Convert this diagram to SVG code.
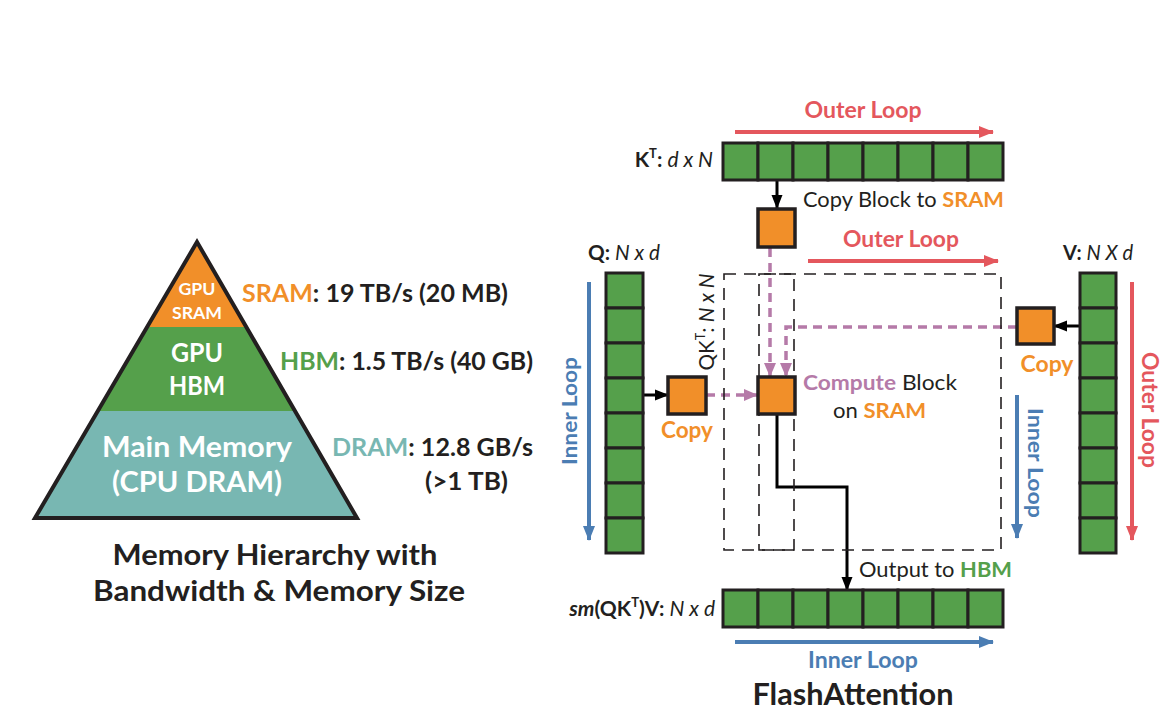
<svg xmlns="http://www.w3.org/2000/svg" width="1168" height="722" viewBox="0 0 1168 722">
<style>
text{font-family:Lato,"Open Sans","Liberation Sans",sans-serif;fill:#231f20}
.b{font-weight:700}
.w{fill:#fff;font-weight:700}
.cell{fill:#55a04b;stroke:#231f20;stroke-width:3}
.sq{fill:#f18f29;stroke:#231f20;stroke-width:3.5}
.dash{fill:none;stroke:#231f20;stroke-width:1.6;stroke-dasharray:12 8}
.red{stroke:#e4575d;stroke-width:4;fill:none}
.blue{stroke:#4b7db3;stroke-width:4;fill:none}
.pur{stroke:#b57aa8;stroke-width:3.5;fill:none;stroke-dasharray:9 6}
.blk{stroke:#000;stroke-width:3;fill:none}
.or{fill:#f18f29}
.gr{fill:#55a04b}
.tl{fill:#78b7b2}
.rt{fill:#e4575d}
.bt{fill:#4b7db3}
.pt{fill:#b57aa8}
</style>
<defs>
<marker id="ar" markerUnits="userSpaceOnUse" markerWidth="16" markerHeight="14" refX="14" refY="7" orient="auto"><path d="M0,1 L15,7 L0,13 Z" fill="#e4575d"/></marker>
<marker id="ab" markerUnits="userSpaceOnUse" markerWidth="16" markerHeight="14" refX="14" refY="7" orient="auto"><path d="M0,1 L15,7 L0,13 Z" fill="#4b7db3"/></marker>
<marker id="ap" markerUnits="userSpaceOnUse" markerWidth="14" markerHeight="14" refX="13" refY="7" orient="auto"><path d="M0,1 L14,7 L0,13 Z" fill="#b57aa8"/></marker>
<marker id="ak" markerUnits="userSpaceOnUse" markerWidth="14" markerHeight="14" refX="13" refY="7" orient="auto"><path d="M0,1.5 L14,7 L0,12.5 Z" fill="#000"/></marker>
</defs>

<g id="pyramid">
<polygon points="197,242 247,327 147,327" fill="#f18f29"/>
<polygon points="147,327 247,327 296,411 98,411" fill="#55a04b"/>
<polygon points="98,411 296,411 357,518 35,518" fill="#78b7b2"/>
<polygon points="197,242 357,518 35,518" fill="none" stroke="#231f20" stroke-width="4"/>
<text class="w" x="197" y="295" font-size="17" text-anchor="middle" textLength="37" lengthAdjust="spacingAndGlyphs">GPU</text>
<text class="w" x="197" y="319" font-size="17" text-anchor="middle" textLength="50" lengthAdjust="spacingAndGlyphs">SRAM</text>
<text class="w" x="197" y="362" font-size="26" text-anchor="middle" textLength="52" lengthAdjust="spacingAndGlyphs">GPU</text>
<text class="w" x="197" y="395" font-size="26" text-anchor="middle" textLength="56" lengthAdjust="spacingAndGlyphs">HBM</text>
<text class="w" x="197" y="457" font-size="29" text-anchor="middle" textLength="190" lengthAdjust="spacingAndGlyphs">Main Memory</text>
<text class="w" x="197" y="492" font-size="29" text-anchor="middle" textLength="170" lengthAdjust="spacingAndGlyphs">(CPU DRAM)</text>
</g>

<g id="mem-labels">
<text class="b" x="242" y="302" font-size="24" textLength="266" lengthAdjust="spacingAndGlyphs"><tspan class="or">SRAM</tspan>: 19 TB/s (20 MB)</text>
<text class="b" x="280" y="370" font-size="24" textLength="253" lengthAdjust="spacingAndGlyphs"><tspan class="gr">HBM</tspan>: 1.5 TB/s (40 GB)</text>
<text class="b" x="332" y="456" font-size="24" textLength="201" lengthAdjust="spacingAndGlyphs"><tspan class="tl">DRAM</tspan>: 12.8 GB/s</text>
<text class="b" x="425" y="490" font-size="24" textLength="83" lengthAdjust="spacingAndGlyphs">(&gt;1 TB)</text>
</g>

<g id="title-left">
<text class="b" x="275" y="565" font-size="28" text-anchor="middle" textLength="325" lengthAdjust="spacingAndGlyphs">Memory Hierarchy with</text>
<text class="b" x="279" y="601" font-size="28" text-anchor="middle" textLength="372" lengthAdjust="spacingAndGlyphs">Bandwidth &amp; Memory Size</text>
</g>

<g id="connectors">
<line class="red" x1="735" y1="132" x2="993" y2="132" marker-end="url(#ar)"/>
<line class="red" x1="808" y1="261" x2="998" y2="261" marker-end="url(#ar)"/>
<line class="red" x1="1132" y1="282" x2="1132" y2="540" marker-end="url(#ar)"/>
<line class="blue" x1="589" y1="282" x2="589" y2="540" marker-end="url(#ab)"/>
<line class="blue" x1="1017" y1="395" x2="1017" y2="538" marker-end="url(#ab)"/>
<line class="blue" x1="735" y1="642" x2="993" y2="642" marker-end="url(#ab)"/>
<line class="blk" x1="777" y1="180" x2="777" y2="208" marker-end="url(#ak)"/>
<line class="blk" x1="643" y1="395" x2="668" y2="395" marker-end="url(#ak)"/>
<line class="blk" x1="1080" y1="326" x2="1054" y2="326" marker-end="url(#ak)"/>
<polyline class="blk" points="777,414 777,487 847,487 847,590" marker-end="url(#ak)"/>
<line class="pur" x1="706" y1="395" x2="757" y2="395" marker-end="url(#ap)"/>
<line class="pur" x1="770" y1="248" x2="770" y2="376" marker-end="url(#ap)"/>
<polyline class="pur" points="1017,327 786,327 786,376" marker-end="url(#ap)"/>
</g>

<g id="qkt-box">
<rect class="dash" x="724" y="274" width="277" height="276"/>
<rect class="dash" x="759" y="274" width="35" height="276"/>
<text x="714" y="322" font-size="21" text-anchor="middle" transform="rotate(-90 714 322)" textLength="97" lengthAdjust="spacingAndGlyphs">QK<tspan font-size="13" dy="-9">T</tspan><tspan dy="9">: </tspan><tspan font-style="italic">N x N</tspan></text>
</g>

<g id="kt">
<rect class="cell" x="723" y="143" width="35" height="37"/>
<rect class="cell" x="758" y="143" width="35" height="37"/>
<rect class="cell" x="793" y="143" width="35" height="37"/>
<rect class="cell" x="828" y="143" width="35" height="37"/>
<rect class="cell" x="863" y="143" width="35" height="37"/>
<rect class="cell" x="898" y="143" width="35" height="37"/>
<rect class="cell" x="933" y="143" width="35" height="37"/>
<rect class="cell" x="968" y="143" width="35" height="37"/>
<text class="b" x="713" y="167" font-size="21" text-anchor="end">K<tspan font-size="13" dy="-9">T</tspan><tspan dy="9">: </tspan><tspan font-weight="400" font-style="italic">d x N</tspan></text>
<text class="b rt" x="863" y="118" font-size="22" text-anchor="middle" textLength="117" lengthAdjust="spacingAndGlyphs">Outer Loop</text>
</g>

<g id="kt-block">
<rect class="sq" x="758" y="209" width="37" height="38"/>
<text x="803" y="207" font-size="21" textLength="201" lengthAdjust="spacingAndGlyphs">Copy Block to <tspan class="or b">SRAM</tspan></text>
<text class="b rt" x="901" y="247" font-size="22" text-anchor="middle" textLength="116" lengthAdjust="spacingAndGlyphs">Outer Loop</text>
</g>

<g id="q">
<rect class="cell" x="606" y="273" width="37" height="35"/>
<rect class="cell" x="606" y="308" width="37" height="35"/>
<rect class="cell" x="606" y="343" width="37" height="35"/>
<rect class="cell" x="606" y="378" width="37" height="35"/>
<rect class="cell" x="606" y="413" width="37" height="35"/>
<rect class="cell" x="606" y="448" width="37" height="35"/>
<rect class="cell" x="606" y="483" width="37" height="35"/>
<rect class="cell" x="606" y="518" width="37" height="35"/>
<text class="b" x="588" y="260" font-size="21" textLength="72" lengthAdjust="spacingAndGlyphs">Q: <tspan font-weight="400" font-style="italic">N x d</tspan></text>
<text class="b bt" x="577" y="411" font-size="21" text-anchor="middle" transform="rotate(-90 577 411)" textLength="108" lengthAdjust="spacingAndGlyphs">Inner Loop</text>
</g>

<g id="q-block">
<rect class="sq" x="668" y="377" width="38" height="37"/>
<text class="b or" x="687" y="438" font-size="22" text-anchor="middle" textLength="52" lengthAdjust="spacingAndGlyphs">Copy</text>
</g>

<g id="compute-block">
<rect class="sq" x="758" y="377" width="37" height="37"/>
<text x="803" y="390" font-size="21" textLength="154" lengthAdjust="spacingAndGlyphs"><tspan class="pt b">Compute</tspan> Block</text>
<text x="833" y="418" font-size="21" textLength="93" lengthAdjust="spacingAndGlyphs">on <tspan class="or b">SRAM</tspan></text>
</g>

<g id="v">
<rect class="cell" x="1080" y="273" width="36" height="35"/>
<rect class="cell" x="1080" y="308" width="36" height="35"/>
<rect class="cell" x="1080" y="343" width="36" height="35"/>
<rect class="cell" x="1080" y="378" width="36" height="35"/>
<rect class="cell" x="1080" y="413" width="36" height="35"/>
<rect class="cell" x="1080" y="448" width="36" height="35"/>
<rect class="cell" x="1080" y="483" width="36" height="35"/>
<rect class="cell" x="1080" y="518" width="36" height="35"/>
<text class="b" x="1063" y="260" font-size="21" textLength="70" lengthAdjust="spacingAndGlyphs">V: <tspan font-weight="400" font-style="italic">N X d</tspan></text>
<text class="b rt" x="1142" y="410" font-size="22" text-anchor="middle" transform="rotate(90 1142 410)" textLength="116" lengthAdjust="spacingAndGlyphs">Outer Loop</text>
<text class="b bt" x="1028" y="463" font-size="21" text-anchor="middle" transform="rotate(90 1028 463)" textLength="110" lengthAdjust="spacingAndGlyphs">Inner Loop</text>
</g>

<g id="v-block">
<rect class="sq" x="1017" y="308" width="37" height="36"/>
<text class="b or" x="1047" y="372" font-size="22" text-anchor="middle" textLength="53" lengthAdjust="spacingAndGlyphs">Copy</text>
</g>

<g id="output">
<rect class="cell" x="723" y="590" width="35" height="37"/>
<rect class="cell" x="758" y="590" width="35" height="37"/>
<rect class="cell" x="793" y="590" width="35" height="37"/>
<rect class="cell" x="828" y="590" width="35" height="37"/>
<rect class="cell" x="863" y="590" width="35" height="37"/>
<rect class="cell" x="898" y="590" width="35" height="37"/>
<rect class="cell" x="933" y="590" width="35" height="37"/>
<rect class="cell" x="968" y="590" width="35" height="37"/>
<text x="859" y="577" font-size="21" textLength="153" lengthAdjust="spacingAndGlyphs">Output to <tspan class="gr b">HBM</tspan></text>
<text class="b" x="715" y="616" font-size="21" text-anchor="end"><tspan font-style="italic">sm</tspan>(QK<tspan font-size="13" dy="-9">T</tspan><tspan dy="9">)V: </tspan><tspan font-weight="400" font-style="italic">N x d</tspan></text>
<text class="b bt" x="863" y="668" font-size="22" text-anchor="middle" textLength="110" lengthAdjust="spacingAndGlyphs">Inner Loop</text>
<text class="b" x="853" y="705" font-size="30" text-anchor="middle" textLength="201" lengthAdjust="spacingAndGlyphs">FlashAttention</text>
</g>
</svg>
